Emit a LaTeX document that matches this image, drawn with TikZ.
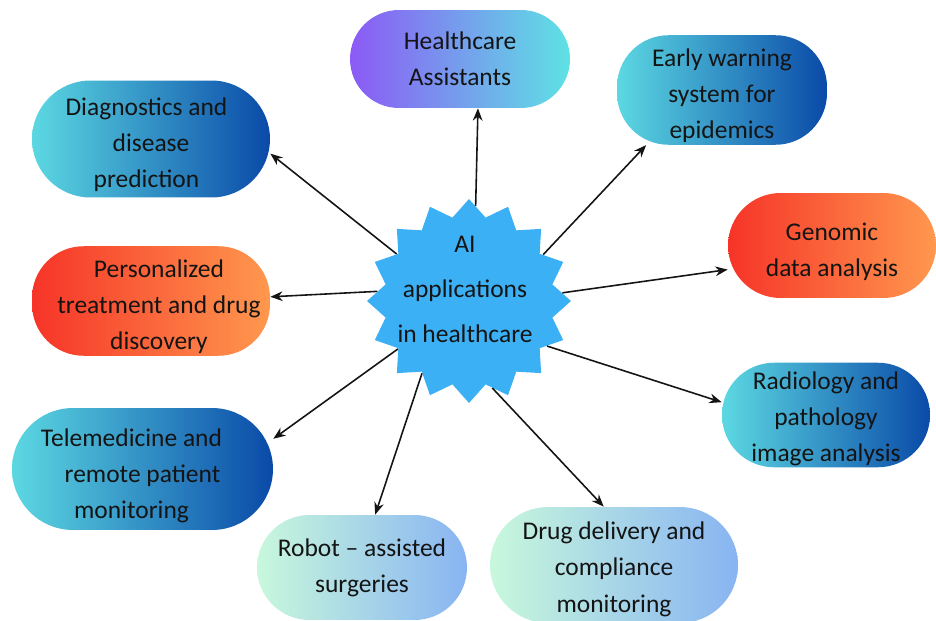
\documentclass[tikz,border=0pt]{standalone}
\usepackage{fontspec}
\setmainfont{Carlito}
\usetikzlibrary{shapes.geometric,arrows.meta}

\definecolor{cyanL}{RGB}{92,216,226}
\definecolor{navyR}{RGB}{10,74,168}
\definecolor{violetL}{RGB}{140,90,245}
\definecolor{aquaR}{RGB}{94,226,228}
\definecolor{redL}{RGB}{246,52,40}
\definecolor{orangeR}{RGB}{255,152,78}
\definecolor{mintL}{RGB}{200,248,220}
\definecolor{skyR}{RGB}{136,180,242}
\definecolor{hubblue}{RGB}{60,176,245}
\definecolor{ink}{RGB}{20,20,20}

% taller first line, so that a text block sits a little lower in its pill
\newcommand{\topstrut}[1]{\rule{0pt}{#1}}

\tikzset{
  pill/.style={rectangle, inner sep=1pt, align=center, text=ink,
    font=\fontsize{14.5}{20.5}\selectfont},
  % width, height and corner radius of a pill
  pillsize/.style n args={3}{minimum width=#1, minimum height=#2, rounded corners=#3},
  bluepill/.style={pill, left color=cyanL, right color=navyR},
  violetpill/.style={pill, left color=violetL, right color=aquaR},
  firepill/.style={pill, left color=redL, right color=orangeR},
  mintpill/.style={pill, left color=mintL, right color=skyR},
  link/.style={-{Stealth[length=7pt,width=5.5pt]}, line width=0.9pt, ink}
}

\begin{document}
\begin{tikzpicture}[x=0.02cm, y=-0.02cm]
\useasboundingbox (0,0) rectangle (936,621);
\clip (0,0) rectangle (936,621);

% central star
\node[star, star points=16, star point ratio=1.2, minimum size=4.08cm,
      inner sep=0pt, fill=hubblue] (hub) at (469,301) {};
\node[align=center, text=ink, font=\fontsize{14.5}{25.6}\selectfont]
      (hubtext) at (465,289) {AI\\applications\\in healthcare};

% application pills
\node[violetpill, pillsize={4.4cm}{1.96cm}{0.98cm}] (ha) at (460,59)
  {Healthcare\\Assistants};
\node[bluepill, pillsize={4.2cm}{2.06cm}{1.03cm}] (ew) at (722,90)
  {\topstrut{17pt}Early warning\\system for\\epidemics};
\node[bluepill, pillsize={4.76cm}{2.34cm}{1.17cm}] (dx) at (151,139)
  {\topstrut{17pt}Diagnostics and\hspace*{0.18cm}\\disease\hspace*{0.18cm}\\prediction\hspace*{0.18cm}};
\node[firepill, pillsize={4.16cm}{2.1cm}{1.05cm}] (gen) at (832,245.5)
  {\topstrut{17pt}Genomic\\data analysis};
\node[firepill, pillsize={4.76cm}{2.06cm}{1.03cm}] (pers) at (151,301)
  {\topstrut{17pt}\hspace*{0.32cm}Personalized\\\hspace*{0.32cm}treatment and drug\\\hspace*{0.32cm}discovery};
\node[bluepill, pillsize={4.16cm}{2.08cm}{1.04cm}] (rad) at (826,415)
  {\topstrut{14pt}Radiology and\\pathology\\image analysis};
\node[bluepill, pillsize={5.22cm}{2.44cm}{1.22cm}] (tele) at (142.5,469)
  {\topstrut{18pt}Telemedicine and\hspace*{0.44cm}\\remote patient\hspace*{0.44cm}\\monitoring\hspace*{0.44cm}};
\node[mintpill, pillsize={4.2cm}{2.1cm}{1.05cm}] (robot) at (362,567.5)
  {Robot -- assisted\\surgeries};
\node[mintpill, pillsize={4.96cm}{2.32cm}{1.16cm}] (drug) at (614,565)
  {\topstrut{15pt}Drug delivery and\\compliance\\monitoring};

% connectors from the hub
\draw[link] (hub.86)  -- (ha.290);
\draw[link] (hub.32)  -- (ew.216);
\draw[link] (hub.147) -- (dx.353);
\draw[link] (hub.5)   -- (gen.193);
\draw[link] (hub.174) -- (pers.2);
\draw[link] (hub.330) -- (rad.173);
\draw[link] (hub.214) -- (tele.13);
\draw[link] (hub.237) -- (robot.76);
\draw[link] (hub.285) -- (drug.100);
\end{tikzpicture}
\end{document}
